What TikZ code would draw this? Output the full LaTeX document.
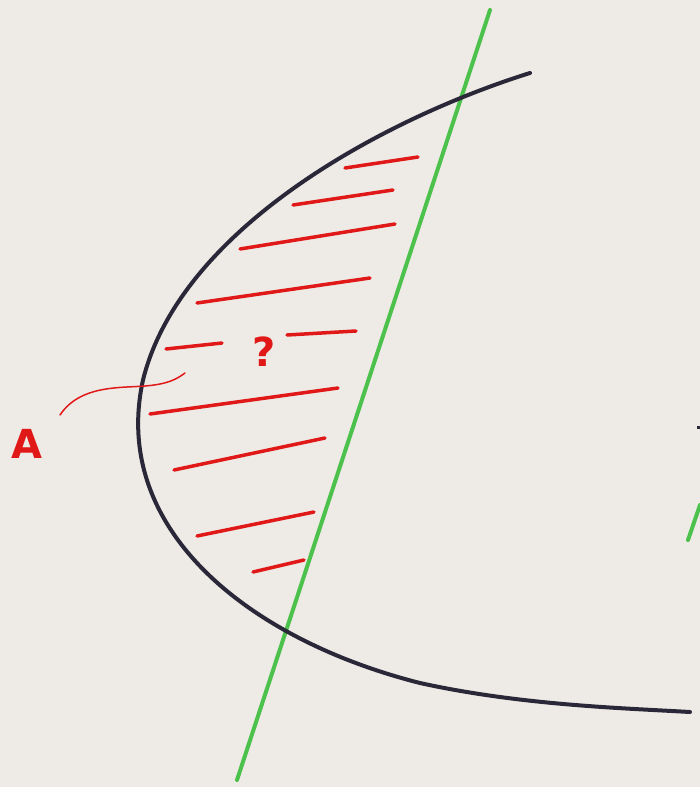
\documentclass[tikz,border=0pt]{standalone}
\usepackage{fontspec}
\setmainfont{DejaVu Sans}
\definecolor{paper}{HTML}{EEEBE6}
\definecolor{ink}{HTML}{2A2838}
\definecolor{pen}{HTML}{E01818}
\definecolor{gpen}{HTML}{4CC24C}
\begin{document}
\begin{tikzpicture}[x=1pt,y=-1pt,
  curve/.style={draw=ink,line width=4pt,line cap=round},
  axis/.style={draw=gpen,line width=4pt,line cap=round},
  hatch/.style={draw=pen,line width=3.5pt,line cap=round},
  leader/.style={draw=pen,line width=1.5pt,line cap=round},
  lbl/.style={text=pen,font=\bfseries\fontsize{40}{40}\selectfont,inner sep=0pt}]
\fill[paper] (0,0) rectangle (700,787);
\useasboundingbox (0,0) rectangle (700,787);
% red hatching
\draw[hatch] (345,168) -- (418,157);
\draw[hatch] (293,205) -- (393,190);
\draw[hatch] (240,249) -- (395,224);
\draw[hatch] (197,303) -- (370,278);
\draw[hatch] (166,349) -- (222,343);
\draw[hatch] (287,335) -- (356,331);
\draw[hatch] (150,414) -- (338,388);
\draw[hatch] (174,470) -- (325,438);
\draw[hatch] (197,536) -- (314,512);
\draw[hatch] (253,572) -- (304,560);
% green line
\draw[axis] (490,10) -- (237,780);
\draw[axis] (688,540) -- (700,505);
% black curve
\draw[curve] (530,73) .. controls (380,120) and (180,230) .. (143,380)
  .. controls (110,530) and (250,640) .. (420,683)
  .. controls (520,705) and (620,708) .. (690,712);
\draw[ink,line width=3pt] (697,427) -- (700,427);
% leader
\draw[leader] (60,415) .. controls (80,385) and (120,388) .. (145,386)
  .. controls (170,384) and (178,378) .. (185,373);
% labels
\node[lbl] (q) at (264,352) {?};
\node[lbl] (a) at (27,444) {A};
\end{tikzpicture}
\end{document}
